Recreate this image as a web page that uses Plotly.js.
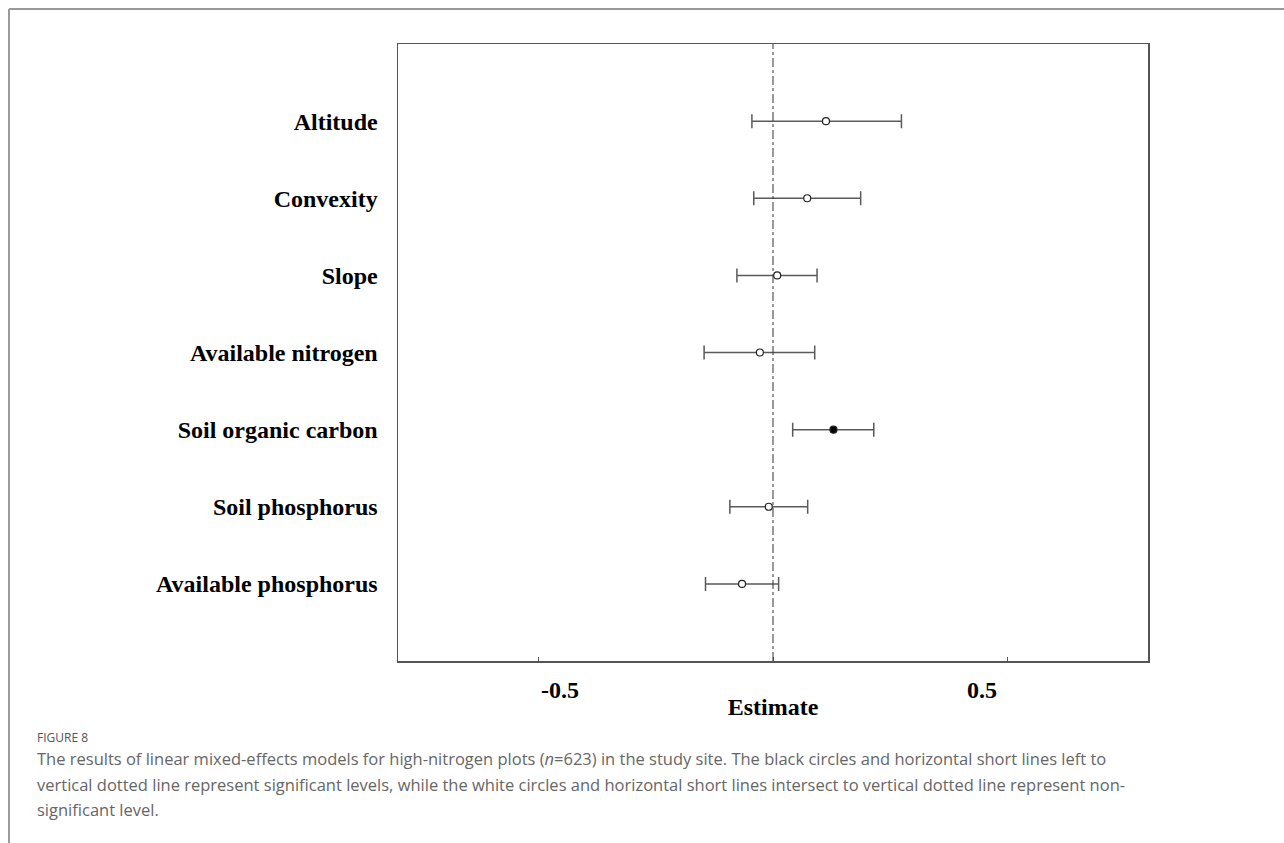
<!DOCTYPE html>
<html>
<head>
<meta charset="utf-8">
<script src="https://cdn.plot.ly/plotly-3.0.1.min.js"></script>
<style>
  html, body { margin: 0; padding: 0; background: #fff; }
  #chart { width: 1284px; height: 843px; }
</style>
</head>
<body>
<div id="chart"></div>
<script>
// ---- Data ----
const predictors = ["Altitude", "Convexity", "Slope", "Available nitrogen",
                    "Soil organic carbon", "Soil phosphorus", "Available phosphorus"];
const estimates  = [0.113, 0.073, 0.009, -0.028, 0.129, -0.009, -0.066];
const lowerCI    = [-0.045, -0.041, -0.077, -0.147, 0.042, -0.092, -0.144];
const upperCI    = [0.274, 0.187, 0.094, 0.089, 0.215, 0.074, 0.012];
const significant = [false, false, false, false, true, false, false];
const xTickVals  = [-0.5, 0.5];
const xTickText  = ["-0.5", "0.5"];
const xAxisTitle = "Estimate";
const figLabel   = "FIGURE 8";
const captionLines = [
  "The results of linear mixed-effects models for high-nitrogen plots (<i>n</i>=623) in the study site. The black circles and horizontal short lines left to",
  "vertical dotted line represent significant levels, while the white circles and horizontal short lines intersect to vertical dotted line represent non-",
  "significant level."
];

// ---- Layout geometry (pixels) ----
const W = 1284, H = 843;
const PL = 398, PR = 1148, PT = 44, PB = 661;
const px2x = px => (px - PL) / (PR - PL);
const px2y = py => (PB - py) / (PB - PT);

const serif = "Liberation Serif, Times New Roman, serif";
const sans = "Open Sans, Noto Sans, sans-serif";

const trace = {
  type: "scatter",
  mode: "markers",
  x: estimates,
  y: predictors,
  error_x: {
    type: "data",
    symmetric: false,
    array: upperCI.map((u, i) => u - estimates[i]),
    arrayminus: lowerCI.map((l, i) => estimates[i] - l),
    color: "#5a5a5a",
    thickness: 1.5,
    width: 7
  },
  marker: {
    symbol: "circle",
    size: 7,
    color: significant.map(s => s ? "#000000" : "#ffffff"),
    line: { color: "#222222", width: 1.2 }
  },
  hoverinfo: "x+y",
  showlegend: false
};

const annotations = [];
xTickVals.forEach((v, i) => {
  annotations.push({
    xref: "x", yref: "paper", x: v, y: 0,
    xshift: v < 0 ? 21 : -25, yshift: -29,
    xanchor: "center", yanchor: "middle",
    text: "<b>" + xTickText[i] + "</b>",
    showarrow: false,
    font: { family: serif, size: 24, color: "#000" }
  });
});
annotations.push({
  xref: "paper", yref: "paper", x: px2x(35), y: px2y(737),
  xanchor: "left", yanchor: "middle", showarrow: false,
  text: figLabel, font: { family: sans, size: 12, color: "#555" }
});
const capY = [758, 784, 809];
captionLines.forEach((t, i) => {
  annotations.push({
    xref: "paper", yref: "paper", x: px2x(35), y: px2y(capY[i]),
    xanchor: "left", yanchor: "middle", showarrow: false, align: "left",
    text: t, font: { family: sans, size: 16.5, color: "#666" }
  });
});

const layout = {
  width: W, height: H,
  margin: { l: PL, r: W - PR, t: PT, b: H - PB, pad: 0 },
  paper_bgcolor: "#fff", plot_bgcolor: "#fff",
  xaxis: {
    range: [-0.8, 0.8],
    tickvals: [-0.5, 0, 0.5],
    showticklabels: false,
    ticks: "inside", ticklen: 4, tickcolor: "#555", tickwidth: 1,
    showgrid: false, zeroline: false,
    showline: true, linecolor: "#555", linewidth: 1.5, mirror: true,
    title: { text: "<b>" + xAxisTitle + "</b>", standoff: 36,
             font: { family: serif, size: 24, color: "#000" } }
  },
  yaxis: {
    type: "category",
    categoryorder: "array", categoryarray: predictors,
    range: [7, -1],
    ticks: "", ticklabelstandoff: 14,
    showgrid: false, zeroline: false,
    showline: true, linecolor: "#555", linewidth: 1.5, mirror: true,
    tickfont: { family: serif, size: 24, color: "#000", weight: "bold" }
  },
  shapes: [
    { type: "line", xref: "x", yref: "paper", x0: 0, x1: 0, y0: 0, y1: 1,
      line: { color: "#333", width: 1, dash: "dashdot" } },
    { type: "line", xref: "paper", yref: "paper",
      x0: px2x(9), x1: px2x(W + 5), y0: px2y(9), y1: px2y(9),
      line: { color: "#9a9a9a", width: 2 } },
    { type: "line", xref: "paper", yref: "paper",
      x0: px2x(9), x1: px2x(9), y0: px2y(9), y1: px2y(H + 5),
      line: { color: "#9a9a9a", width: 2 } }
  ],
  annotations: annotations
};

Plotly.newPlot("chart", [trace], layout, { displayModeBar: false, staticPlot: true });
</script>
</body>
</html>
